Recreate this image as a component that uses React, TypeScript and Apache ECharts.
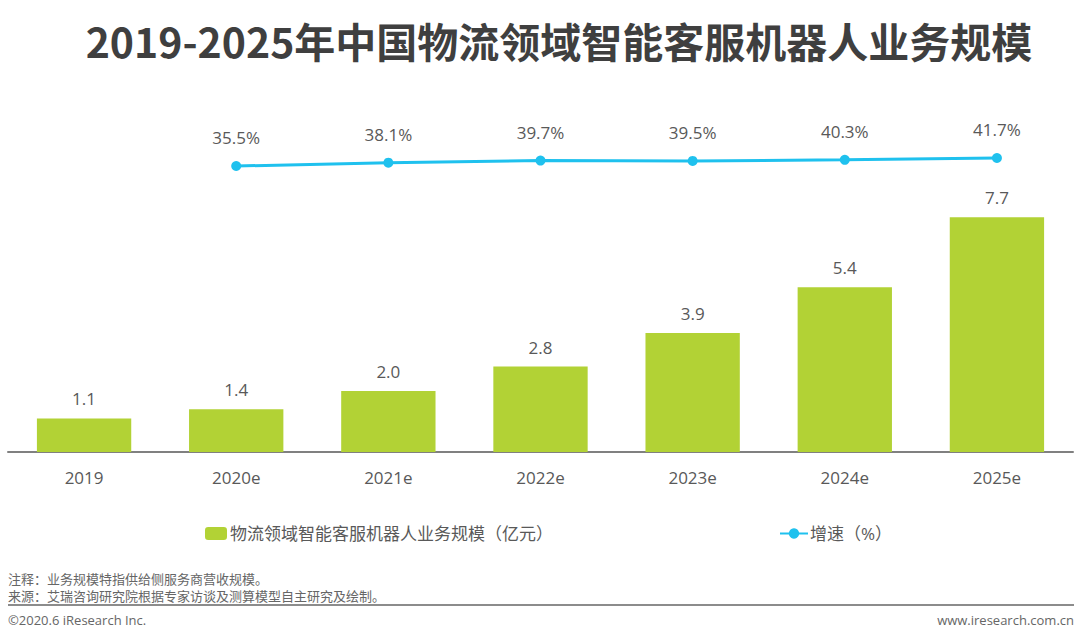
import React, { useEffect, useRef } from "react";
import * as echarts from "echarts";

const categories = ["2019", "2020e", "2021e", "2022e", "2023e", "2024e", "2025e"];
const scaleValues = [1.1, 1.4, 2.0, 2.8, 3.9, 5.4, 7.7];
const growthValues: (number | null)[] = [null, 35.5, 38.1, 39.7, 39.5, 40.3, 41.7];
const barName = "物流领域智能客服机器人业务规模（亿元）";
const lineName = "增速（%）";
const titleText = "2019-2025年中国物流领域智能客服机器人业务规模";
const noteText = "注释：业务规模特指供给侧服务商营收规模。";
const sourceText = "来源：艾瑞咨询研究院根据专家访谈及测算模型自主研究及绘制。";
const copyrightText = "©2020.6 iResearch Inc.";
const siteText = "www.iresearch.com.cn";

const FONT = "'Open Sans', 'Noto Sans CJK SC', sans-serif";
const CJK = "'Noto Sans CJK SC', sans-serif";
const TXT = "#595959";

export default function App() {
  const ref = useRef<HTMLDivElement>(null);
  useEffect(() => {
    if (!ref.current) return;
    const chart = echarts.init(ref.current, null, { renderer: "svg" });
    chart.setOption({
      animation: false,
      backgroundColor: "#ffffff",
      textStyle: { fontFamily: FONT },
      grid: { left: 8, right: 7, top: 86, bottom: 188, containLabel: false },
      xAxis: {
        type: "category",
        data: categories,
        axisLine: { lineStyle: { color: "#808080", width: 2 } },
        axisTick: { show: false },
        axisLabel: { color: TXT, fontSize: 17, margin: 17, fontFamily: FONT },
      },
      yAxis: [
        { type: "value", min: 0, max: 12, show: false, splitLine: { show: false } },
        { type: "value", min: -186, max: 97.5, show: false, splitLine: { show: false } },
      ],
      legend: [
        {
          left: 200,
          top: 520,
          data: [barName],
          itemWidth: 22,
          itemHeight: 13,
          itemGap: 4,
          textStyle: { color: TXT, fontSize: 17, fontFamily: FONT, padding: [0, 0, 0, -2] },
          selectedMode: false,
        },
        {
          left: 774,
          top: 520,
          data: [lineName],
          itemWidth: 28,
          itemHeight: 13,
          textStyle: { color: TXT, fontSize: 17, fontFamily: FONT, padding: [0, 0, 0, -3] },
          selectedMode: false,
        },
      ],
      series: [
        {
          name: barName,
          type: "bar",
          data: scaleValues,
          barWidth: "62%",
          itemStyle: { color: "#b2d235" },
          label: {
            show: true,
            position: "top",
            distance: 11,
            color: TXT,
            fontSize: 17,
            fontFamily: FONT,
            formatter: (p: any) => Number(p.value).toFixed(1),
          },
        },
        {
          name: lineName,
          type: "line",
          yAxisIndex: 1,
          data: growthValues,
          symbol: "circle",
          symbolSize: 10,
          lineStyle: { color: "#1fc1ee", width: 3 },
          itemStyle: { color: "#1fc1ee" },
          label: {
            show: true,
            position: "top",
            distance: 15,
            color: TXT,
            fontSize: 17,
            fontFamily: FONT,
            formatter: (p: any) => Number(p.value).toFixed(1) + "%",
          },
        },
      ],
      graphic: [
        {
          type: "text",
          x: 559,
          y: 40,
          style: {
            text: titleText,
            fontSize: 41,
            fontWeight: "bold",
            fill: "#3f3f3f",
            fontFamily: CJK,
            align: "center",
            verticalAlign: "middle",
          },
        },
        {
          type: "text",
          x: 8,
          y: 578,
          style: { text: noteText, fontSize: 13, fill: "#666666", fontFamily: CJK, verticalAlign: "middle", lineHeight: 14 },
        },
        {
          type: "text",
          x: 8,
          y: 595,
          style: { text: sourceText, fontSize: 13, fill: "#666666", fontFamily: CJK, verticalAlign: "middle", lineHeight: 14 },
        },
        {
          type: "line",
          shape: { x1: 8, y1: 605, x2: 1074, y2: 605 },
          style: { stroke: "#8c8c8c", lineWidth: 2 },
        },
        {
          type: "text",
          x: 8,
          y: 620,
          style: { text: copyrightText, fontSize: 13, fill: "#666666", fontFamily: FONT, verticalAlign: "middle" },
        },
        {
          type: "text",
          x: 1074,
          y: 620,
          style: { text: siteText, fontSize: 13, fill: "#666666", fontFamily: FONT, align: "right", verticalAlign: "middle" },
        },
      ],
    });
    return () => chart.dispose();
  }, []);
  return (
    <div
      ref={ref}
      style={{ position: "fixed", left: 0, top: 0, width: 1080, height: 640 }}
    />
  );
}
